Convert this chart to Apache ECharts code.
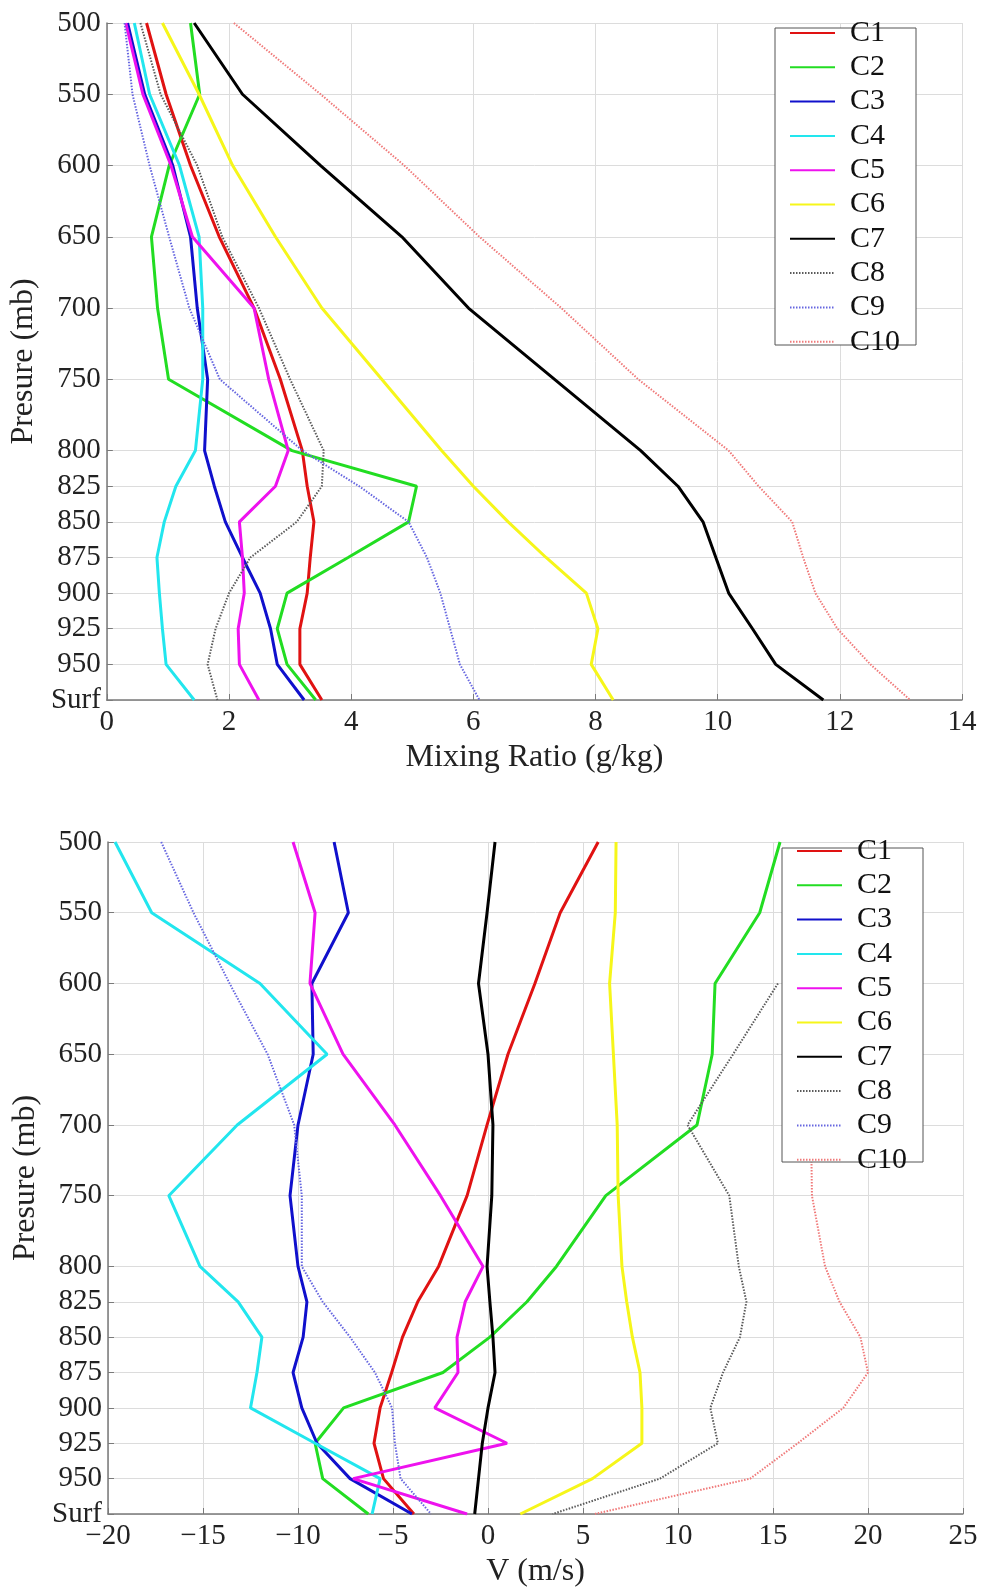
<!DOCTYPE html>
<html><head><meta charset="utf-8">
<script src="https://cdn.jsdelivr.net/npm/echarts@6/dist/echarts.min.js"></script>
<style>html,body{margin:0;padding:0;background:#fff}#c{width:982px;height:1589px}</style>
</head><body><div id="c"></div>
<script>
// pressure category axis (25 mb steps), labelled levels, and their shown labels
const pressureCats = ['500','525','550','575','600','625','650','675','700','725','750','775','800','825','850','875','900','925','950','975'];
const levels      = ['500','550','600','650','700','750','800','825','850','875','900','925','950','975'];
const levelLabels = ['500','550','600','650','700','750','800','825','850','875','900','925','950','Surf'];
const seriesNames = ['C1','C2','C3','C4','C5','C6','C7','C8','C9','C10'];

// Top panel: mixing ratio (g/kg)
const mrC1  = [0.65, 0.97, 1.37, 1.84, 2.41, 2.84, 3.20, 3.28, 3.39, 3.33, 3.28, 3.16, 3.16, 3.52];
const mrC2  = [1.37, 1.52, 1.02, 0.73, 0.83, 1.01, 3.03, 5.07, 4.94, 3.95, 2.95, 2.79, 2.95, 3.42];
const mrC3  = [0.34, 0.62, 1.08, 1.37, 1.48, 1.65, 1.60, 1.76, 1.94, 2.22, 2.51, 2.68, 2.79, 3.23];
const mrC4  = [0.45, 0.70, 1.19, 1.51, 1.57, 1.57, 1.45, 1.13, 0.94, 0.82, 0.86, 0.91, 0.97, 1.43];
const mrC5  = [0.31, 0.59, 1.05, 1.40, 2.41, 2.65, 2.97, 2.76, 2.17, 2.22, 2.25, 2.15, 2.17, 2.49];
const mrC6  = [0.91, 1.51, 2.06, 2.76, 3.52, 4.50, 5.48, 6.00, 6.57, 7.19, 7.85, 8.04, 7.93, 8.29];
const mrC7  = [1.43, 2.22, 3.50, 4.83, 5.92, 7.33, 8.74, 9.35, 9.76, 9.97, 10.18, 10.57, 10.95, 11.73];
const mrC8  = [0.55, 0.88, 1.48, 1.89, 2.49, 3.00, 3.55, 3.52, 3.11, 2.35, 2.00, 1.78, 1.65, 1.81];
const mrC9  = [0.29, 0.42, 0.70, 1.02, 1.35, 1.85, 3.20, 4.13, 4.94, 5.24, 5.46, 5.62, 5.78, 6.10];
const mrC10 = [2.08, 3.50, 4.87, 6.10, 7.44, 8.70, 10.18, 10.67, 11.22, 11.40, 11.60, 11.96, 12.50, 13.15];

// Bottom panel: V (m/s)
const vC1  = [5.8, 3.8, 2.47, 1.05, -0.05, -1.1, -2.6, -3.7, -4.5, -5.07, -5.68, -6.0, -5.5, -3.9];
const vC2  = [15.37, 14.3, 11.95, 11.8, 11.0, 6.2, 3.6, 2.05, 0.1, -2.37, -7.6, -9.1, -8.7, -6.3];
const vC3  = [-8.1, -7.35, -9.27, -9.2, -10.0, -10.42, -10.0, -9.53, -9.73, -10.26, -9.8, -9.0, -7.26, -4.0];
const vC4  = [-19.63, -17.7, -12.0, -8.47, -13.2, -16.8, -15.16, -13.15, -11.9, -12.16, -12.5, -9.1, -5.68, -6.1];
const vC5  = [-10.26, -9.1, -9.37, -7.63, -4.9, -2.5, -0.26, -1.2, -1.63, -1.58, -2.8, 1.0, -7.1, -1.1];
const vC6  = [6.74, 6.7, 6.4, 6.6, 6.8, 6.85, 7.05, 7.3, 7.6, 8.0, 8.1, 8.1, 5.5, 1.7];
const vC7  = [0.37, -0.05, -0.5, 0.0, 0.26, 0.2, -0.05, 0.1, 0.26, 0.37, 0.0, -0.3, -0.5, -0.7];
const vC8  = [null, null, 15.26, 12.9, 10.5, 12.7, 13.2, 13.6, 13.26, 12.37, 11.7, 12.1, 9.05, 3.4];
const vC9  = [-17.2, -15.5, -13.6, -11.6, -10.2, -9.8, -9.8, -8.7, -7.26, -5.95, -5.05, -4.9, -4.6, -3.0];
const vC10 = [null, null, null, null, 17.0, 17.05, 17.74, 18.5, 19.6, 20.0, 18.7, 16.3, 13.8, 5.6];

const mrTicks = [0, 2, 4, 6, 8, 10, 12, 14];
const vTicks = [-20, -15, -10, -5, 0, 5, 10, 15, 20, 25];

const styles = [
  {color:'#e01212', width:3, type:'solid'},
  {color:'#22dd22', width:3, type:'solid'},
  {color:'#1010cc', width:3, type:'solid'},
  {color:'#22e6ee', width:3, type:'solid'},
  {color:'#ee12ee', width:3, type:'solid'},
  {color:'#f6f61a', width:3, type:'solid'},
  {color:'#000000', width:3, type:'solid'},
  {color:'#5a5a5a', width:2, type:[1.5,1.5]},
  {color:'#6666e0', width:2, type:[1.5,1.5]},
  {color:'#f07a7a', width:2, type:[1.5,1.5]}
];

const topVals = [mrC1,mrC2,mrC3,mrC4,mrC5,mrC6,mrC7,mrC8,mrC9,mrC10];
const botVals = [vC1,vC2,vC3,vC4,vC5,vC6,vC7,vC8,vC9,vC10];

const FONT = 'Liberation Serif';
function mk(name, vals, idx, st) {
  return {
    type:'line', name: name, xAxisIndex: idx, yAxisIndex: idx,
    symbol:'none', showSymbol:false, connectNulls:false, animation:false,
    color: st.color,
    lineStyle:{color: st.color, width: st.width, type: st.type},
    data: levels.map((p,i) => [vals[i], p])
  };
}
const series = [];
seriesNames.forEach((n,i) => series.push(mk(n, topVals[i], 0, styles[i])));
seriesNames.forEach((n,i) => series.push(mk(n, botVals[i], 1, styles[i])));

const minus = v => String(v).replace('-', '\u2212');
function xAx(idx, ticks, name) {
  return {
    type:'value', gridIndex: idx, min: ticks[0], max: ticks[ticks.length-1],
    interval: ticks[1]-ticks[0],
    name: name, nameLocation:'middle', nameGap: 42,
    nameTextStyle:{fontFamily:FONT, fontSize:32, color:'#222'},
    axisLine:{show:true, onZero:false, lineStyle:{color:'#7a7a7a', width:1.5}},
    axisTick:{show:true, inside:true, length:6, lineStyle:{color:'#7a7a7a'}},
    axisLabel:{fontFamily:FONT, fontSize:29, color:'#222', margin:8, formatter: minus},
    splitLine:{show:true, lineStyle:{color:'#dcdcdc', width:1}}
  };
}
const showLvl = (i, v) => levels.indexOf(v) >= 0;
function yAx(idx) {
  return {
    type:'category', gridIndex: idx, data: pressureCats, inverse:true, boundaryGap:false,
    name:'Presure (mb)', nameLocation:'middle', nameGap: 56,
    nameTextStyle:{fontFamily:FONT, fontSize:32, color:'#222'},
    axisLine:{show:true, onZero:false, lineStyle:{color:'#7a7a7a', width:1.5}},
    axisTick:{show:true, inside:true, length:6, interval: showLvl, lineStyle:{color:'#7a7a7a'}},
    axisLabel:{fontFamily:FONT, fontSize:29, color:'#222', margin:6, interval: showLvl,
      formatter: v => { const i = levels.indexOf(v); return i < 0 ? '' : levelLabels[i]; }},
    splitLine:{show:true, interval: showLvl, lineStyle:{color:'#dcdcdc', width:1}}
  };
}
function lg(left, top) {
  return {
    orient:'vertical', left: left, top: top, padding: 0, itemGap: 4.3, zlevel: 1, z: 6,
    itemWidth: 45, itemHeight: 14, selectedMode:false, data: seriesNames,
    itemStyle:{opacity:0},
    textStyle:{fontFamily:FONT, fontSize:30, lineHeight:30, color:'#111', padding:[0,0,0,10]}
  };
}
const chart = echarts.init(document.getElementById('c'), null, {renderer:'canvas'});
chart.setOption({
  backgroundColor:'#ffffff',
  animation:false,
  grid:[
    {left:104, top:23, width:858, height:677},
    {left:108, top:842, width:855, height:672}
  ],
  xAxis:[xAx(0, mrTicks, 'Mixing Ratio (g/kg)'), xAx(1, vTicks, 'V (m/s)')],
  yAxis:[yAx(0), yAx(1)],
  legend:[lg(789, 18), lg(796, 836)],
  graphic:[{zlevel:1, z:5, elements:[
    {type:'rect', zlevel:1, z:5, shape:{x:775, y:28, width:141, height:317}, style:{fill:'#fff', stroke:'#555', lineWidth:1}},
    {type:'rect', zlevel:1, z:5, shape:{x:782, y:848, width:141, height:314}, style:{fill:'#fff', stroke:'#555', lineWidth:1}}
  ]}],
  series: series
});
</script>
</body></html>
